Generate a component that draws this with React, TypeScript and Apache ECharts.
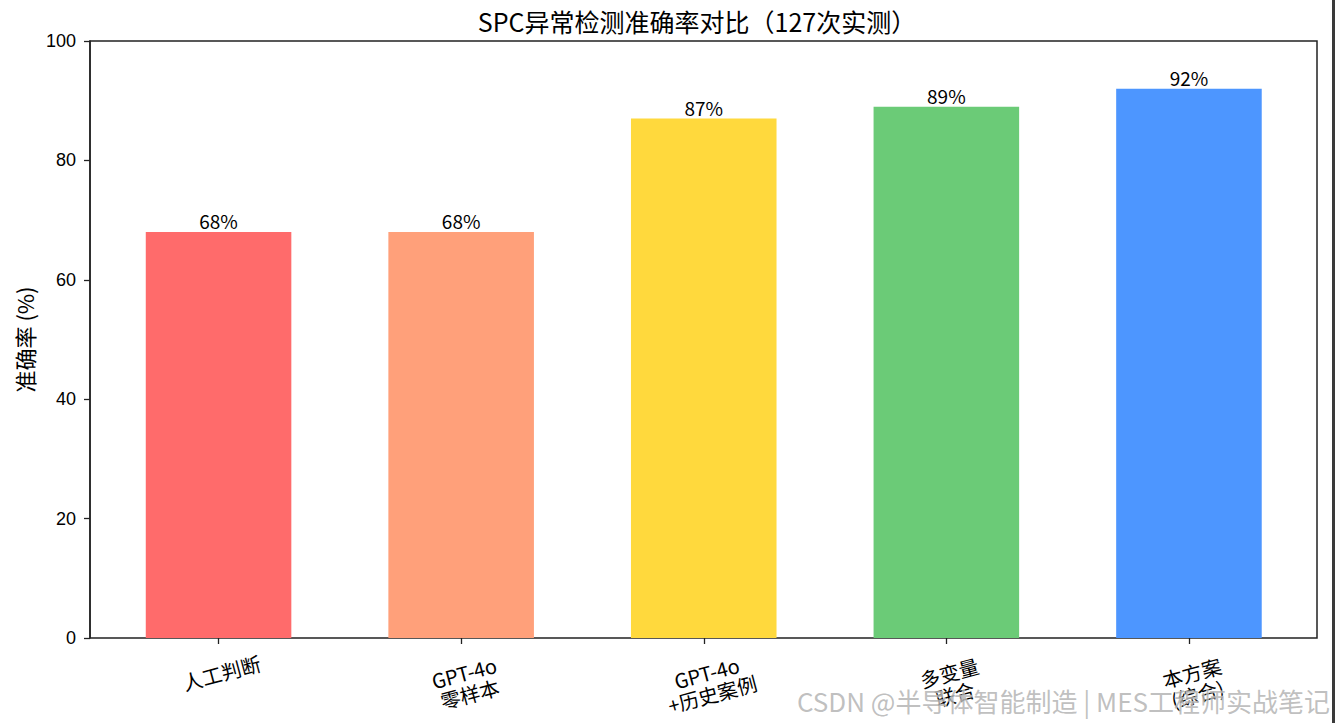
import React, { useEffect, useRef } from "react";
import * as echarts from "echarts";

const categories = ["人工判断", "GPT-4o\n零样本", "GPT-4o\n+历史案例", "多变量\n联合", "本方案\n(综合)"];
const accuracy = [68, 68, 87, 89, 92];
const barColors = ["#FF6B6B", "#FFA07A", "#FFD93D", "#6BCB77", "#4D96FF"];
const yTicks = { min: 0, max: 100, interval: 20 };
const titleText = "SPC异常检测准确率对比（127次实测）";
const yName = "准确率 (%)";
const watermark = "CSDN @半导体智能制造 | MES工程师实战笔记";

const CJK = '"Noto Sans CJK SC", "Noto Sans", sans-serif';

export default function App() {
  const ref = useRef<HTMLDivElement>(null);
  useEffect(() => {
    if (!ref.current) return;
    const chart = echarts.init(ref.current, null, { renderer: "svg" });
    chart.setOption({
      animation: false,
      backgroundColor: "#ffffff",
      grid: [
        { left: 90, right: 18, top: 41, bottom: 85, show: true, borderColor: "#222", borderWidth: 1.5, backgroundColor: "transparent" },
        { left: 97.25, right: 24.75, top: 41, bottom: 85 },
      ],
      xAxis: [
        { type: "value", gridIndex: 0, show: false, min: 0, max: 1 },
        {
          type: "category",
          gridIndex: 1,
          data: categories,
          axisLine: { show: false },
          axisTick: { show: true, alignWithLabel: true, length: 6, lineStyle: { color: "#222", width: 1.3 } },
          axisLabel: {
            rotate: 15,
            align: "center",
            verticalAlign: "top",
            margin: 24,
            fontSize: 20,
            lineHeight: 22,
            color: "#000",
            fontFamily: CJK,
            interval: 0,
          },
        },
      ],
      yAxis: [
        {
          type: "value",
          gridIndex: 0,
          min: yTicks.min,
          max: yTicks.max,
          interval: yTicks.interval,
          name: yName,
          nameLocation: "middle",
          nameGap: 54,
          nameTextStyle: { fontSize: 22, color: "#000", fontFamily: CJK },
          axisLine: { show: true, lineStyle: { color: "#222", width: 1.5 } },
          axisTick: { show: true, length: 6, lineStyle: { color: "#222", width: 1.3 } },
          axisLabel: { margin: 14, fontSize: 18, color: "#000", fontFamily: '"Liberation Sans", sans-serif' },
          splitLine: { show: false },
        },
        { type: "value", gridIndex: 1, min: yTicks.min, max: yTicks.max, show: false, splitLine: { show: false } },
      ],
      series: [
        {
          type: "bar",
          xAxisIndex: 1,
          yAxisIndex: 1,
          barWidth: "60%",
          data: accuracy.map((v, i) => ({ value: v, itemStyle: { color: barColors[i] } })),
          label: {
            show: true,
            position: "top",
            distance: 2,
            formatter: "{c}%",
            fontSize: 19,
            color: "#000",
            fontFamily: CJK,
          },
        },
      ],
      graphic: [
        {
          type: "text",
          x: 697,
          y: 21,
          style: { text: titleText, fontSize: 25, fontFamily: CJK, fill: "#000", align: "center", verticalAlign: "middle" },
        },
        {
          type: "text",
          x: 1330,
          y: 700,
          z: 100,
          style: {
            text: watermark,
            fontSize: 26,
            fontFamily: CJK,
            fill: "rgba(175,175,175,0.8)",
            stroke: "rgba(255,255,255,0.6)",
            lineWidth: 1,
            align: "right",
            verticalAlign: "middle",
          },
        },
        {
          type: "rect",
          shape: { x: 1332, y: 0, width: 3, height: 723 },
          style: { fill: "#3a3a3a" },
        },
      ],
    });
    return () => chart.dispose();
  }, []);
  return <div ref={ref} style={{ position: "absolute", left: 0, top: 0, width: 1335, height: 723, background: "#fff" }} />;
}
